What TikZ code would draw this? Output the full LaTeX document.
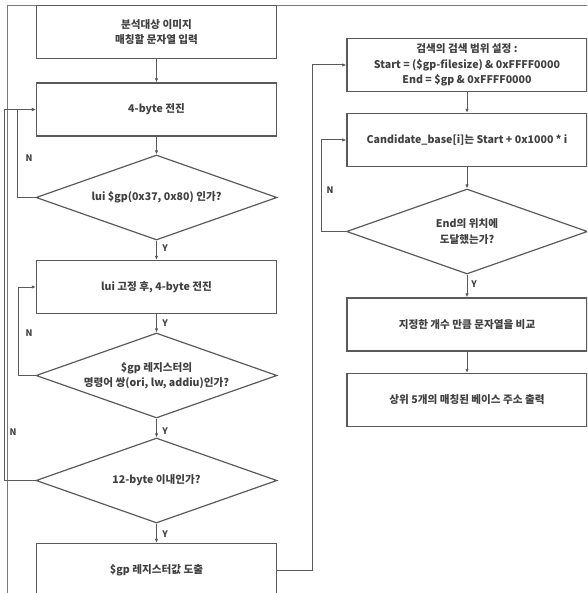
\documentclass[tikz,border=0pt]{standalone}
\usepackage{fontspec}
\setmainfont{Noto Sans CJK KR}
\usetikzlibrary{shapes.geometric,arrows.meta}
\definecolor{linegray}{HTML}{5A5A5A}
\definecolor{textgray}{HTML}{404040}
\begin{document}
\begin{tikzpicture}[x=1pt, y=-1pt,
    every node/.style={font=\bfseries\fontsize{10.6}{15.5}\selectfont, text=textgray},
    box/.style={draw=linegray, line width=1.4pt, rectangle, minimum width=240pt, minimum height=53pt, inner sep=0pt, align=center},
    dec/.style={draw=linegray, line width=1.2pt, diamond, aspect=2.84, minimum width=241pt, minimum height=85pt, inner sep=0pt, align=center},
    arr/.style={draw=linegray, line width=1pt, -{Latex[length=4pt,width=3.5pt]}},
    yn/.style={font=\bfseries\fontsize{9}{9}\selectfont}]
  \useasboundingbox (0,0) rectangle (587,593);
  \clip (0,0) rectangle (587,593);

  % --- frame lines ---
  \draw[linegray!80, line width=0.6pt] (7,600) -- (7,5) -- (590,5);

  % --- Left column ---
  \node[box] (in)   at (156.5,32)    {분석대상 이미지\\매칭할 문자열 입력};
  \node[box] (adv)  at (156.5,109.5) {4-byte 전진};
  \node[dec] (lui)  at (156.5,197.5) {lui \$gp(0x37, 0x80) 인가?};
  \node[box] (fix)  at (156.5,287)   {lui 고정 후, 4-byte 전진};
  \node[dec] (pair) at (156.5,375.5) {\$gp 레지스터의\\명령어 쌍(ori, lw, addiu)인가?};
  \node[dec] (win)  at (156.5,480.5) {12-byte 이내인가?};
  \node[box] (gp)   at (156.5,570)   {\$gp 레지스터값 도출};

  % --- Right column ---
  \node[box] (rng)  at (467,65)    {검색의 검색 범위 설정 :\\Start = (\$gp-filesize) \& 0xFFFF0000\\End = \$gp \& 0xFFFF0000};
  \node[box] (cand) at (467,140)   {Candidate\_base[i]는 Start + 0x1000 * i};
  \node[dec] (end)  at (467,231.5) {End의 위치에\\도달했는가?};
  \node[box] (cmp)  at (467,324.5) {지정한 개수 만큼 문자열을 비교};
  \node[box] (out)  at (467,400)   {상위 5개의 매칭된 베이스 주소 출력};

  \coordinate (turn) at (312,570);

  % --- Edges, left ---
  \draw[arr] (in) -- (adv);
  \draw[arr] (adv) -- (lui);
  \draw[arr] (lui) -- (fix);
  \draw[arr] (fix) -- (pair);
  \draw[arr] (pair) -- (win);
  \draw[arr] (win) -- (gp);

  \draw[arr] (lui.west) -- ++(-18,0) |- (adv.west);
  \draw[arr] (pair.west) -- ++(-17,0) |- (fix.west);
  \draw[arr] (win.west) -- ++(-31,0) |- (adv.west);

  % --- Edges, right ---
  \draw[arr] (gp.east) -- (turn) |- (rng.west);
  \draw[arr] (rng) -- (cand);
  \draw[arr] (cand) -- (end);
  \draw[arr] (end) -- (cmp);
  \draw[arr] (cmp) -- (out);
  \draw[arr] (end.west) -- ++(-24,0) |- (cand.west);

  % --- Y / N labels ---
  \node[yn] (y1) at (165,248) {Y};
  \node[yn] (y2) at (165,323) {Y};
  \node[yn] (y3) at (165,431) {Y};
  \node[yn] (y4) at (165,534) {Y};
  \node[yn] (y5) at (474,284) {Y};
  \node[yn] (n1) at (29,158) {N};
  \node[yn] (n2) at (29,333) {N};
  \node[yn] (n3) at (13,432) {N};
  \node[yn] (n4) at (330,190) {N};
\end{tikzpicture}
\end{document}
